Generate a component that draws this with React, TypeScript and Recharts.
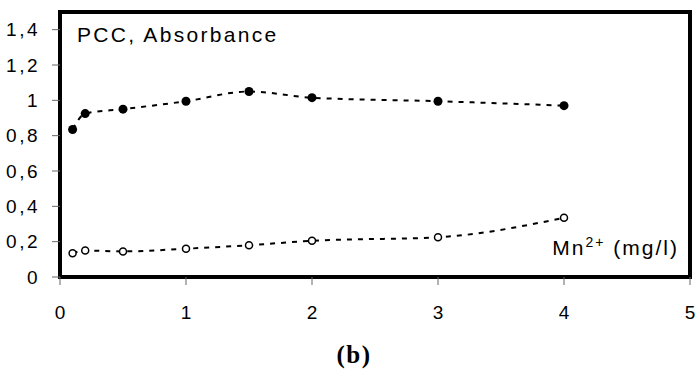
import {
    LineChart,
    Line,
    XAxis,
    YAxis,
    CartesianGrid,
    Label
} from 'recharts';

// Mn2+ concentration (mg/l)
const mn = [0.1, 0.2, 0.5, 1, 1.5, 2, 3, 4];
// filled markers
const pcc = [0.835, 0.925, 0.95, 0.995, 1.05, 1.015, 0.995, 0.97];
// open markers
const absorbance = [0.135, 0.15, 0.145, 0.16, 0.18, 0.205, 0.225, 0.335];

const xTicks = [0, 1, 2, 3, 4, 5];
const yTicks = [0, 0.2, 0.4, 0.6, 0.8, 1, 1.2, 1.4];

const FONT = '"Liberation Sans", Arial, sans-serif';

const data = mn.map((x, i) => ({ mn: x, pcc: pcc[i], absorbance: absorbance[i] }));

const fmtComma = (v: number) => String(v).replace('.', ',');

const XTick = ({ x, y, payload }: any) => (
    <text x={x} y={y + 19.5} textAnchor="middle" fontFamily={FONT} fontSize={19} fill="#000">
        {payload.value}
    </text>
);

const YTick = ({ x, y, payload }: any) => (
    <text x={x} y={y + 6.5} textAnchor="end" fontFamily={FONT} fontSize={19} letterSpacing={2.5} fill="#000">
        {fmtComma(payload.value)}
    </text>
);

// thick frame edge
const FrameLine = ({ x1, y1, x2, y2 }: any) => (
    <line x1={x1} y1={y1} x2={x2} y2={y2} stroke="#000" strokeWidth={4} strokeLinecap="square" />
);

// sits just inside the top-left corner of the plot frame
const TitleLabel = ({ viewBox }: any) => (
    <text
        x={viewBox.x + viewBox.width + 17}
        y={viewBox.y + 30}
        fontFamily={FONT}
        fontSize={21}
        letterSpacing={2.3}
        fill="#000"
    >
        PCC, Absorbance
    </text>
);

// sits just inside the bottom-right corner of the plot frame
const UnitLabel = ({ viewBox }: any) => (
    <text
        x={viewBox.x + viewBox.width - 11}
        y={viewBox.y - 22}
        textAnchor="end"
        fontFamily={FONT}
        fontSize={21}
        letterSpacing={2}
        fill="#000"
    >
        Mn<tspan fontSize={14} dy={-8}>2+</tspan>
        <tspan dy={8}> (mg/l)</tspan>
    </text>
);

const PanelLabel = ({ viewBox }: any) => (
    <text
        x={viewBox.x + 294}
        y={viewBox.y + 86}
        textAnchor="middle"
        fontFamily={'"Liberation Serif", "Times New Roman", serif'}
        fontWeight="bold"
        fontSize={25}
        letterSpacing={1.5}
        fill="#000"
    >
        (b)
    </text>
);

export default function App() {
    return (
        <div style={{ position: 'absolute', left: 0, top: 0, background: '#fff' }}>
            <LineChart width={696} height={370} data={data} margin={{ top: 12, right: 6, left: 0, bottom: 0 }}>
                {/* plot frame: only the four edges of the plotting area */}
                <CartesianGrid
                    horizontal={<FrameLine />}
                    vertical={<FrameLine />}
                    horizontalCoordinatesGenerator={({ offset }: any) => [offset.top, offset.top + offset.height]}
                    verticalCoordinatesGenerator={({ offset }: any) => [offset.left, offset.left + offset.width]}
                />
                <XAxis
                    dataKey="mn"
                    type="number"
                    domain={[0, 5]}
                    ticks={xTicks}
                    axisLine={false}
                    tickLine={{ stroke: '#666', strokeWidth: 1 }}
                    tickSize={8}
                    tickMargin={14}
                    tick={<XTick />}
                    height={93}
                >
                    <Label content={<PanelLabel />} />
                    <Label content={<UnitLabel />} />
                </XAxis>
                <YAxis
                    type="number"
                    domain={[0, 1.5]}
                    ticks={yTicks}
                    axisLine={false}
                    tickLine={{ stroke: '#666', strokeWidth: 1 }}
                    tickSize={8}
                    tickMargin={12}
                    tick={<YTick />}
                    width={60}
                >
                    <Label content={<TitleLabel />} />
                </YAxis>
                <Line
                    dataKey="pcc"
                    type="monotone"
                    stroke="#000"
                    strokeWidth={2}
                    strokeDasharray="5 6"
                    dot={{ r: 4.5, fill: '#000', stroke: 'none' }}
                    activeDot={false}
                    isAnimationActive={false}
                />
                <Line
                    dataKey="absorbance"
                    type="monotone"
                    stroke="#000"
                    strokeWidth={2}
                    strokeDasharray="5 6"
                    dot={{ r: 3.5, fill: '#fff', stroke: '#000', strokeWidth: 1.5, strokeDasharray: '' }}
                    activeDot={false}
                    isAnimationActive={false}
                />
            </LineChart>
        </div>
    );
}
